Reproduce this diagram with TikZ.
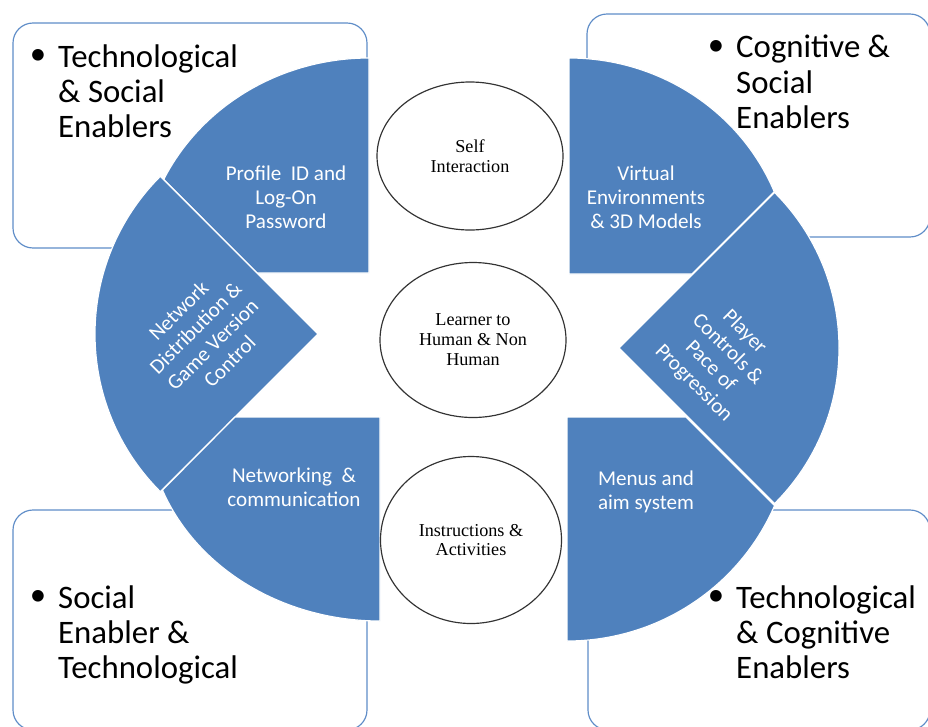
\documentclass[tikz,border=0pt]{standalone}
\usepackage{fontspec}
\setmainfont{Carlito}
\newfontfamily\hubFont{Liberation Serif}
\usetikzlibrary{shapes.geometric}
\tikzstyle{figure} = [x = 0.03cm, y = -0.03cm]
\definecolor{pieceColor}{RGB}{79,129,189}
\definecolor{boxColor}{RGB}{95,141,200}
\tikzstyle{pieceStyle} = [fill=pieceColor, draw=white, line width=1pt]
\tikzstyle{boxStyle} = [draw=boxColor, line width=1pt, rounded corners = .6cm, fill=white]
\tikzstyle{pieceText} = [text=white, font=\fontsize{18}{20.5}\selectfont, align=center]
\tikzstyle{hubStyle} = [ellipse, draw=black!80, line width=1pt, fill=white, inner sep=0pt, align=center, font=\hubFont\fontsize{15.5}{17}\selectfont]
\tikzstyle{enablerText} = [anchor=north west, inner sep=0pt, align=left, font=\fontsize{28}{30}\selectfont]
\tikzstyle{bulletMark} = [inner sep=0pt, font=\fontsize{28}{30}\selectfont]
\newcommand{\enablerBox}[4]{\draw [boxStyle] (#1, #2) rectangle (#3, #4);}
\newcommand{\enablerLabel}[4]{
  \node [bulletMark] (#1Dot) at (#2 - 20, #3 + 13) {\textbullet};
  \node [enablerText] (#1) at (#2, #3) {#4};
}

\begin{document}
\begin{tikzpicture}[figure]
  \useasboundingbox (0,0) rectangle (928,726);
  \enablerBox{13}{23}{367}{248}
  \enablerBox{587}{14}{930}{237}
  \enablerBox{13}{510}{367}{730}
  \enablerBox{588}{510}{930}{730}

  \filldraw [pieceStyle] (369,273) -- ++(0,-215) arc [start angle=-90, end angle=-154.2, x radius=228, y radius=215] -- (257,273) -- cycle;
  \filldraw [pieceStyle] (318,334) -- ++(-135:223) arc [start angle=-135, end angle=-225, radius=223] -- cycle;
  \filldraw [pieceStyle] (380,417) -- ++(0,204) arc [start angle=90, end angle=159, x radius=233, y radius=204] -- (235,417) -- cycle;
  \filldraw [pieceStyle] (569,274) -- ++(0,-216) arc [start angle=-90, end angle=-22.4, x radius=222, y radius=216] -- (692,274) -- cycle;
  \filldraw [pieceStyle] (619,348) -- ++(-45:220) arc [start angle=-45, end angle=45, radius=220] -- cycle;
  \filldraw [pieceStyle] (567,417) -- ++(0,224) arc [start angle=90, end angle=23.3, x radius=226, y radius=224] -- (686,417) -- cycle;

  \node [pieceText] (profile) at (286,197) {Profile\ \ ID and\\Log-On\\Password};
  \node [pieceText, rotate=45] (network) at (204,336) {Network\\Distribution \&\\Game Version\\Control};
  \node [pieceText] (networking) at (294,487) {Networking\ \ \&\\communication};
  \node [pieceText] (virtual) at (646,197) {Virtual\\Environments\\\& 3D Models};
  \node [pieceText, rotate=-45] (player) at (719,358) {Player\\Controls \&\\Pace of\\Progression};
  \node [pieceText] (menus) at (646,492) {Menus and\\aim system};

  \node [hubStyle, minimum width=5.58cm, minimum height=4.44cm] (self) at (470,156) {Self\\Interaction};
  \node [hubStyle, minimum width=5.58cm, minimum height=4.65cm] (learner) at (473,340) {Learner to\\Human \& Non\\Human};
  \node [hubStyle, minimum width=5.43cm, minimum height=5.01cm] (instructions) at (471,540) {Instructions \&\\Activities};

  \enablerLabel{techSocial}{58}{44}{Technological\\\& Social\\Enablers}
  \enablerLabel{cogSocial}{736}{35}{Cognitive \&\\Social\\Enablers}
  \enablerLabel{socialTech}{58}{585}{Social\\Enabler \&\\Technological}
  \enablerLabel{techCog}{736}{585}{Technological\\\& Cognitive\\Enablers}
\end{tikzpicture}
\end{document}
